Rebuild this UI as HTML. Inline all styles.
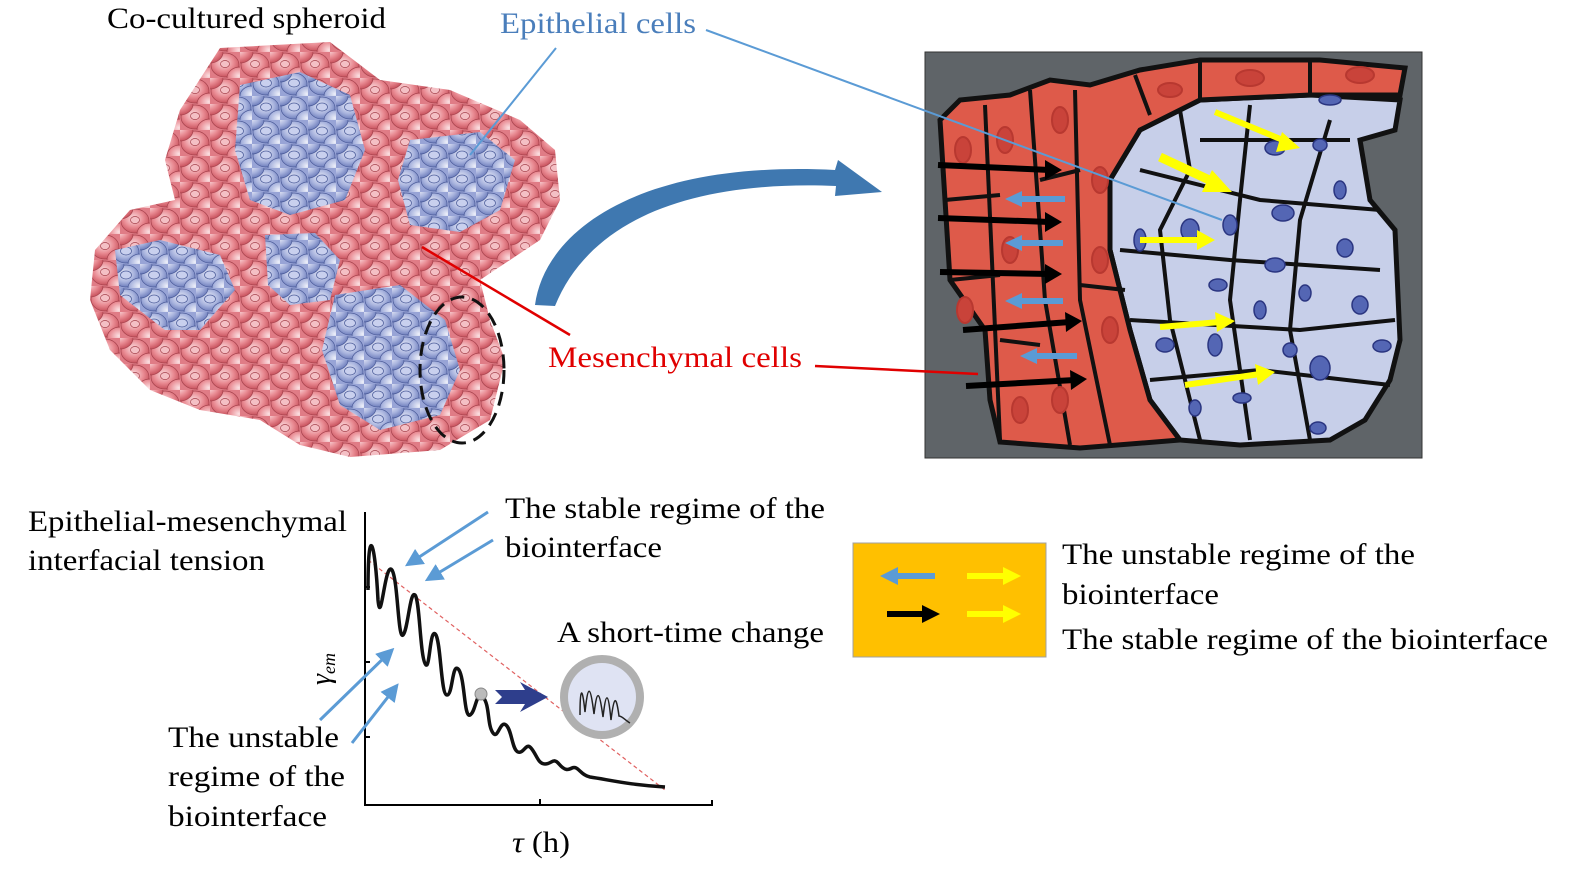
<!DOCTYPE html>
<html><head><meta charset="utf-8"><style>
html,body{margin:0;padding:0;background:#fff;}
svg{display:block;}
text{font-family:"Liberation Serif",serif;}
</style></head><body>
<svg width="1583" height="869" viewBox="0 0 1583 869" xmlns="http://www.w3.org/2000/svg">
<defs>
<radialGradient id="rg" cx="45%" cy="40%" r="60%"><stop offset="0" stop-color="#fbe0e2"/><stop offset="0.6" stop-color="#e98a92"/><stop offset="1" stop-color="#c9545f"/></radialGradient>
<radialGradient id="bg" cx="45%" cy="40%" r="60%"><stop offset="0" stop-color="#eef0fa"/><stop offset="0.6" stop-color="#a9b4de"/><stop offset="1" stop-color="#6f7fbd"/></radialGradient>
<pattern id="pr" width="30" height="26" patternUnits="userSpaceOnUse">
<rect width="30" height="26" fill="#e07c86"/>
<ellipse cx="15" cy="13" rx="14" ry="12" fill="url(#rg)" stroke="#a5404b" stroke-width="0.7"/>
<ellipse cx="15" cy="12" rx="4.5" ry="3.5" fill="#f4c0c5" stroke="#a5404b" stroke-width="0.7"/>
<ellipse cx="0" cy="0" rx="13" ry="11" fill="url(#rg)" stroke="#a5404b" stroke-width="0.7"/>
<ellipse cx="30" cy="26" rx="13" ry="11" fill="url(#rg)" stroke="#a5404b" stroke-width="0.7"/>
</pattern>
<pattern id="pb" width="28" height="24" patternUnits="userSpaceOnUse">
<rect width="28" height="24" fill="#98a4d6"/>
<ellipse cx="14" cy="12" rx="13" ry="11" fill="url(#bg)" stroke="#4b5b99" stroke-width="0.7"/>
<ellipse cx="14" cy="11" rx="5.5" ry="4" fill="#c9d0ee" stroke="#4b5b99" stroke-width="0.7"/>
<ellipse cx="0" cy="0" rx="12" ry="10" fill="url(#bg)" stroke="#4b5b99" stroke-width="0.7"/>
<ellipse cx="28" cy="24" rx="12" ry="10" fill="url(#bg)" stroke="#4b5b99" stroke-width="0.7"/>
</pattern>
<marker id="ab" markerWidth="6" markerHeight="6" refX="4" refY="3" orient="auto" markerUnits="strokeWidth"><path d="M0,0L6,3L0,6z" fill="#5b9bd5"/></marker>
</defs>

<!-- Spheroid -->
<path d="M220,48 L330,42 L380,80 L450,90 L520,120 L555,150 L560,200 L540,240 L480,280 L490,320 L505,360 L490,420 L440,450 L350,457 L300,445 L260,420 L200,410 L150,390 L110,350 L90,300 L95,250 L130,210 L175,200 L165,160 L180,110 Z" fill="url(#pr)"/>
<path d="M240,85 L300,72 L350,95 L365,150 L345,200 L290,215 L250,200 L235,150 Z" fill="url(#pb)"/>
<path d="M410,140 L480,132 L515,160 L500,210 L460,232 L410,225 L398,180 Z" fill="url(#pb)"/>
<path d="M115,250 L160,240 L220,255 L235,290 L200,330 L165,330 L120,295 Z" fill="url(#pb)"/>
<path d="M265,235 L315,233 L340,260 L330,300 L290,305 L268,285 Z" fill="url(#pb)"/>
<path d="M335,295 L400,285 L445,320 L460,370 L440,415 L380,430 L340,405 L322,350 Z" fill="url(#pb)"/>
<ellipse cx="462" cy="370" rx="42" ry="73" fill="none" stroke="#111" stroke-width="3" stroke-dasharray="14,8"/>

<!-- Texts top -->
<text x="107" y="28" font-size="30" textLength="279" lengthAdjust="spacingAndGlyphs">Co-cultured spheroid</text>
<text x="500" y="33" font-size="30" fill="#4a7ebb" textLength="196" lengthAdjust="spacingAndGlyphs">Epithelial cells</text>
<text x="548" y="367" font-size="30" fill="#e00000" textLength="254" lengthAdjust="spacingAndGlyphs">Mesenchymal cells</text>

<!-- curved arrow -->
<path d="M535,305 C545,230 640,160 835,170 L838,160 L882,192 L835,196 L836,186 C690,180 590,220 555,306 Z" fill="#3f78b0"/>

<!-- Right panel -->
<rect x="925" y="52" width="497" height="406" fill="#5f6468" stroke="#333" stroke-width="1"/>
<path d="M1110,180 L1140,130 L1200,100 L1310,95 L1400,100 L1395,130 L1360,140 L1370,200 L1395,230 L1400,340 L1390,380 L1365,420 L1330,440 L1240,445 L1180,440 L1150,400 L1130,330 L1110,250 Z" fill="#c7cfe9" stroke="#111" stroke-width="5"/>
<path d="M940,120 L960,100 L1010,95 L1050,80 L1090,85 L1140,70 L1200,60 L1320,60 L1405,68 L1400,95 L1310,95 L1200,100 L1140,130 L1110,180 L1110,250 L1130,330 L1150,400 L1180,440 L1080,448 L1000,442 L990,400 L985,330 L950,280 L945,200 Z" fill="#de5a4a" stroke="#111" stroke-width="5"/>
<g stroke="#111" stroke-width="4" fill="none">
<path d="M985,105 L1000,440"/><path d="M1030,90 L1045,300 L1070,445"/><path d="M1075,90 L1080,300 L1110,445"/>
<path d="M945,200 L1000,195 M950,280 L1000,275 M1040,180 L1080,170 M1080,285 L1125,290 M1000,340 L1040,345 M1200,60 L1200,100 M1310,60 L1310,95 M1135,75 L1150,115"/>
<path d="M1180,110 L1190,170 L1160,230 L1170,320 L1200,440 M1250,105 L1240,200 L1230,300 L1250,440 M1330,120 L1300,220 L1290,330 L1310,440"/>
<path d="M1140,170 L1260,200 L1380,210 M1120,250 L1230,260 L1380,270 M1130,320 L1300,330 L1395,320 M1150,380 L1260,370 L1390,385 M1200,140 L1350,140"/>
</g>
<g fill="#c9433a" stroke="#b83830" stroke-width="2"><ellipse cx="963" cy="150" rx="8" ry="13"/><ellipse cx="1005" cy="140" rx="8" ry="13"/><ellipse cx="1060" cy="120" rx="8" ry="13"/><ellipse cx="1100" cy="180" rx="8" ry="13"/><ellipse cx="965" cy="310" rx="8" ry="13"/><ellipse cx="1010" cy="250" rx="8" ry="13"/><ellipse cx="1100" cy="260" rx="8" ry="13"/><ellipse cx="1110" cy="330" rx="8" ry="13"/><ellipse cx="1020" cy="410" rx="8" ry="13"/><ellipse cx="1060" cy="400" rx="8" ry="13"/><ellipse cx="1250" cy="78" rx="14" ry="8"/><ellipse cx="1360" cy="75" rx="14" ry="8"/><ellipse cx="1170" cy="90" rx="12" ry="7"/></g>
<g fill="#5466b4" stroke="#2a3580" stroke-width="1.5"><ellipse cx="1330" cy="100" rx="11" ry="5"/><ellipse cx="1275" cy="148" rx="10" ry="7"/><ellipse cx="1320" cy="145" rx="7" ry="6"/><ellipse cx="1340" cy="190" rx="6" ry="9"/><ellipse cx="1283" cy="213" rx="11" ry="8"/><ellipse cx="1230" cy="225" rx="7" ry="10"/><ellipse cx="1190" cy="230" rx="9" ry="11"/><ellipse cx="1140" cy="240" rx="6" ry="11"/><ellipse cx="1345" cy="248" rx="8" ry="9"/><ellipse cx="1275" cy="265" rx="10" ry="7"/><ellipse cx="1218" cy="285" rx="9" ry="6"/><ellipse cx="1305" cy="293" rx="6" ry="8"/><ellipse cx="1360" cy="305" rx="8" ry="9"/><ellipse cx="1260" cy="310" rx="6" ry="9"/><ellipse cx="1165" cy="345" rx="9" ry="7"/><ellipse cx="1215" cy="345" rx="7" ry="11"/><ellipse cx="1290" cy="350" rx="7" ry="7"/><ellipse cx="1320" cy="368" rx="10" ry="12"/><ellipse cx="1382" cy="346" rx="9" ry="6"/><ellipse cx="1242" cy="398" rx="9" ry="5"/><ellipse cx="1195" cy="408" rx="6" ry="8"/><ellipse cx="1318" cy="428" rx="8" ry="6"/></g>
<!-- arrows right panel -->
<g stroke-width="6" fill="none">
<path d="M938,165 L1050,170" stroke="#000"/><path d="M938,218 L1050,222" stroke="#000"/><path d="M940,272 L1050,274" stroke="#000"/><path d="M963,330 L1070,322" stroke="#000"/><path d="M966,386 L1075,380" stroke="#000"/>
<path d="M1065,199 L1020,199" stroke="#5b9bd5"/><path d="M1063,243 L1020,243" stroke="#5b9bd5"/><path d="M1063,301 L1020,301" stroke="#5b9bd5"/><path d="M1077,356 L1035,356" stroke="#5b9bd5"/>
<path d="M1215,112 L1290,143" stroke="#ffff00"/><path d="M1160,157 L1220,185" stroke="#ffff00" stroke-width="9"/><path d="M1140,240 L1200,240" stroke="#ffff00"/><path d="M1160,327 L1220,322" stroke="#ffff00"/><path d="M1185,385 L1260,374" stroke="#ffff00"/>
</g>
<g fill="#000"><path d="M1045,160 L1062,170 L1045,180z"/><path d="M1045,212 L1062,222 L1045,232z"/><path d="M1045,264 L1062,274 L1045,284z"/><path d="M1065,312 L1082,321 L1066,332z"/><path d="M1070,370 L1087,379 L1071,390z"/></g>
<g fill="#5b9bd5"><path d="M1022,191 L1005,199 L1022,207z"/><path d="M1022,235 L1005,243 L1022,251z"/><path d="M1022,293 L1005,301 L1022,309z"/><path d="M1037,348 L1020,356 L1037,364z"/></g>
<g fill="#ffff00"><path d="M1282,132 L1300,148 L1276,152z"/><path d="M1212,170 L1232,192 L1202,192z"/><path d="M1197,230 L1215,240 L1197,250z"/><path d="M1215,312 L1235,321 L1217,332z"/><path d="M1255,364 L1275,372 L1258,385z"/></g>

<!-- connector lines -->
<line x1="706" y1="30" x2="1222" y2="220" stroke="#5b9bd5" stroke-width="2"/>
<line x1="556" y1="48" x2="470" y2="155" stroke="#5b9bd5" stroke-width="2"/>
<line x1="815" y1="366" x2="978" y2="374" stroke="#e00000" stroke-width="2.5"/>
<line x1="570" y1="335" x2="422" y2="247" stroke="#e00000" stroke-width="2.5"/>

<!-- Graph -->
<text x="28" y="531" font-size="30" textLength="319" lengthAdjust="spacingAndGlyphs">Epithelial-mesenchymal</text>
<text x="28" y="570" font-size="30" textLength="237" lengthAdjust="spacingAndGlyphs">interfacial tension</text>
<text x="505" y="518" font-size="30" textLength="320" lengthAdjust="spacingAndGlyphs">The stable regime of the</text>
<text x="505" y="557" font-size="30" textLength="157" lengthAdjust="spacingAndGlyphs">biointerface</text>
<text x="557" y="642" font-size="30" textLength="267" lengthAdjust="spacingAndGlyphs">A short-time change</text>
<text x="168" y="747" font-size="30" textLength="171" lengthAdjust="spacingAndGlyphs">The unstable</text>
<text x="168" y="786" font-size="30" textLength="177" lengthAdjust="spacingAndGlyphs">regime of the</text>
<text x="168" y="826" font-size="30" textLength="159" lengthAdjust="spacingAndGlyphs">biointerface</text>
<text x="512" y="852" font-size="30" textLength="58" lengthAdjust="spacingAndGlyphs"><tspan font-style="italic">τ</tspan> (h)</text>
<text transform="translate(330,685) rotate(-90)" font-size="28" font-style="italic">γ<tspan font-size="18" dy="5">em</tspan></text>
<g stroke="#000" stroke-width="2" fill="none">
<path d="M365,512 L365,805 L712,805 L712,800"/>
<path d="M365,587 L370,587 M365,662 L370,662 M365,737 L370,737 M540,805 L540,799"/>
</g>
<path d="M368,560 L665,790" stroke="#e06060" stroke-width="1.2" stroke-dasharray="4,3" fill="none"/>
<path d="M368,590 C368,520 375,540 378,600 C381,630 385,560 392,570 C398,580 398,640 403,635 C408,630 410,590 415,595 C420,600 420,660 426,665 C430,668 430,625 436,635 C441,645 441,695 447,695 C453,695 452,660 459,670 C465,680 464,718 470,715 C476,712 476,690 483,697 C490,705 487,725 493,733 C498,740 500,720 506,725 C512,730 512,750 518,752 C524,754 526,742 531,748 C537,755 538,764 545,764 C552,764 553,757 559,764 C565,771 568,770 572,768 C578,765 580,775 590,777 C610,780 630,785 665,787" stroke="#111" stroke-width="3.5" fill="none"/>
<circle cx="481" cy="694" r="6" fill="#bbb" stroke="#888"/>
<path d="M495,690 L525,690 L520,682 L548,697 L520,712 L525,704 L495,704 L502,697 Z" fill="#2e3e8c"/>
<circle cx="602" cy="697" r="42" fill="#b0b0b0"/>
<circle cx="602" cy="697" r="34" fill="#dfe3f3"/>
<path d="M580,715 C580,690 582,683 585,712 C588,685 590,683 594,714 C597,690 599,688 603,717 C606,692 608,690 611,720 C614,696 616,694 619,716 C622,716 625,720 630,723" stroke="#222" stroke-width="1.5" fill="none"/>
<g stroke="#5b9bd5" stroke-width="3" fill="none" marker-end="url(#ab)">
<line x1="488" y1="512" x2="410" y2="563"/><line x1="493" y1="540" x2="430" y2="578"/>
<line x1="320" y1="720" x2="390" y2="652"/><line x1="352" y1="743" x2="395" y2="688"/>
</g>

<!-- Legend -->
<rect x="853" y="543" width="193" height="114" fill="#ffc000" stroke="#a0a0a0" stroke-width="1"/>
<g stroke-width="6" fill="none"><path d="M935,576 L895,576" stroke="#5b9bd5"/><path d="M967,576 L1005,576" stroke="#ffff00"/><path d="M887,614 L925,614" stroke="#000"/><path d="M967,614 L1005,614" stroke="#ffff00"/></g>
<path d="M898,567 L880,576 L898,585z" fill="#5b9bd5"/><path d="M1003,567 L1021,576 L1003,585z" fill="#ffff00"/><path d="M922,605 L940,614 L922,623z" fill="#000"/><path d="M1003,605 L1021,614 L1003,623z" fill="#ffff00"/>
<text x="1062" y="564" font-size="30" textLength="353" lengthAdjust="spacingAndGlyphs">The unstable regime of the</text>
<text x="1062" y="604" font-size="30" textLength="157" lengthAdjust="spacingAndGlyphs">biointerface</text>
<text x="1062" y="649" font-size="30" textLength="486" lengthAdjust="spacingAndGlyphs">The stable regime of the biointerface</text>
</svg>
</body></html>
